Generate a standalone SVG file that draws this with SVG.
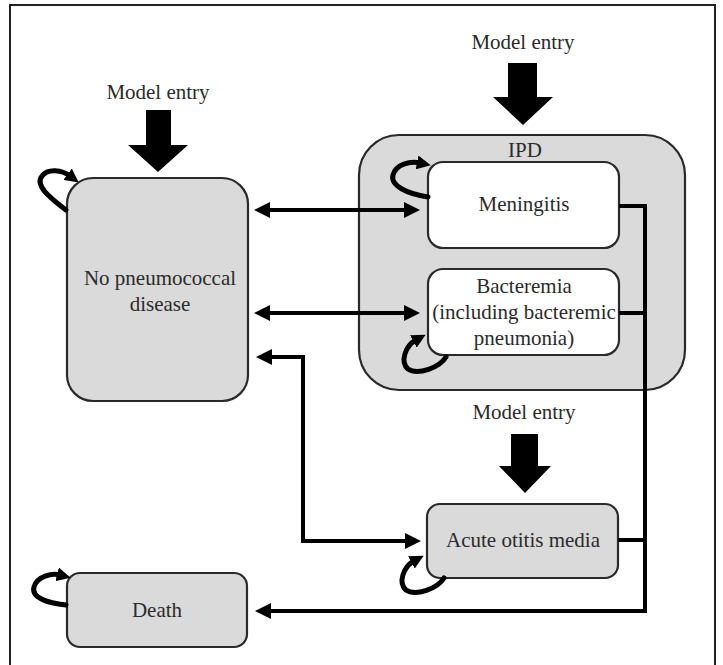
<svg xmlns="http://www.w3.org/2000/svg" width="723" height="665" viewBox="0 0 723 665">
  <defs>
    <style>
      .frame { fill: none; stroke: #222; stroke-width: 2; }
      .box { fill: #dadada; stroke: #2a2a2a; stroke-width: 2.2; }
      .inner { fill: #ffffff; stroke: #2a2a2a; stroke-width: 2.2; }
      .lbl { font-family: 'Liberation Serif', 'Times New Roman', 'DejaVu Serif', serif; font-size: 21px; fill: #2b2b2b; text-anchor: middle; }
      .edge { fill: none; stroke: #000; stroke-width: 4; }
      .loop { fill: none; stroke: #000; stroke-width: 5; stroke-linecap: round; }
      .entry { fill: #000; }
    </style>
    <marker id="head" markerUnits="userSpaceOnUse" viewBox="0 0 16 16" markerWidth="16" markerHeight="16" refX="4" refY="8" orient="auto-start-reverse">
      <path d="M0,0 L16,8 L0,16 Z" fill="#000"/>
    </marker>
    <marker id="loophead" markerUnits="userSpaceOnUse" viewBox="0 0 14 14" markerWidth="14" markerHeight="14" refX="3" refY="7" orient="auto">
      <path d="M0,0 L14,7 L0,14 Z" fill="#000"/>
    </marker>
  </defs>

  <rect width="723" height="665" fill="#fff"/>
  <path class="frame" d="M10,670 V5 H715 V670"/>

  <!-- Model entry inputs -->
  <g id="entry-npd">
    <text class="lbl" x="158" y="99">Model entry</text>
    <polygon class="entry" points="146,110 171,110 171,145 188,145 158,172 128,145 146,145"/>
  </g>
  <g id="entry-ipd">
    <text class="lbl" x="523" y="49">Model entry</text>
    <polygon class="entry" points="508,63 537,63 537,97 553,97 523,125 493,97 508,97"/>
  </g>
  <g id="entry-aom">
    <text class="lbl" x="524" y="419">Model entry</text>
    <polygon class="entry" points="511,434 538,434 538,466 551,466 525,493 499,466 511,466"/>
  </g>

  <!-- Health states -->
  <g id="npd">
    <rect class="box" x="67" y="178" width="181" height="223" rx="26"/>
    <text class="lbl" x="160" y="285">No pneumococcal</text>
    <text class="lbl" x="160" y="311">disease</text>
  </g>

  <g id="ipd">
    <rect class="box" x="359" y="135" width="326" height="255" rx="40"/>
    <text class="lbl" x="525" y="157">IPD</text>
  </g>

  <g id="meningitis">
    <rect class="inner" x="428" y="162" width="191" height="86" rx="15"/>
    <text class="lbl" x="524" y="211">Meningitis</text>
  </g>

  <g id="bacteremia">
    <rect class="inner" x="428" y="269" width="191" height="86" rx="15"/>
    <text class="lbl" x="524" y="293">Bacteremia</text>
    <text class="lbl" x="524" y="319">(including bacteremic</text>
    <text class="lbl" x="524" y="345">pneumonia)</text>
  </g>

  <g id="aom">
    <rect class="box" x="427" y="504" width="191" height="74" rx="13"/>
    <text class="lbl" x="523" y="547">Acute otitis media</text>
  </g>

  <g id="death">
    <rect class="box" x="67" y="573" width="180" height="74" rx="13"/>
    <text class="lbl" x="157" y="617">Death</text>
  </g>

  <!-- Transitions -->
  <g id="connectors">
    <line class="edge" x1="266" y1="210" x2="408" y2="210" marker-start="url(#head)" marker-end="url(#head)"/>
    <line class="edge" x1="266" y1="313" x2="408" y2="313" marker-start="url(#head)" marker-end="url(#head)"/>
    <path class="edge" d="M268,357 H303 V541 H409" marker-start="url(#head)" marker-end="url(#head)"/>
    <path class="edge" d="M619,206 H645 V611 H267" marker-end="url(#head)"/>
    <path class="edge" d="M619,313 H645"/>
    <path class="edge" d="M618,540 H645"/>

    <!-- remain in state -->
    <path class="loop" d="M66,210 C52,199 34,186 42,176 C48,168 62,170 70,176" marker-end="url(#loophead)"/>
    <path class="loop" d="M428,197 C408,194 390,186 393,175 C396,164 410,161 420,163" marker-end="url(#loophead)"/>
    <path class="loop" d="M446,357 C440,367 418,376 408,369 C400,362 405,346 416,340" marker-end="url(#loophead)"/>
    <path class="loop" d="M444,578 C438,588 416,597 406,590 C398,583 403,567 414,561" marker-end="url(#loophead)"/>
    <path class="loop" d="M66,605 C48,603 31,598 34,587 C37,576 52,573 60,575" marker-end="url(#loophead)"/>
  </g>
</svg>
